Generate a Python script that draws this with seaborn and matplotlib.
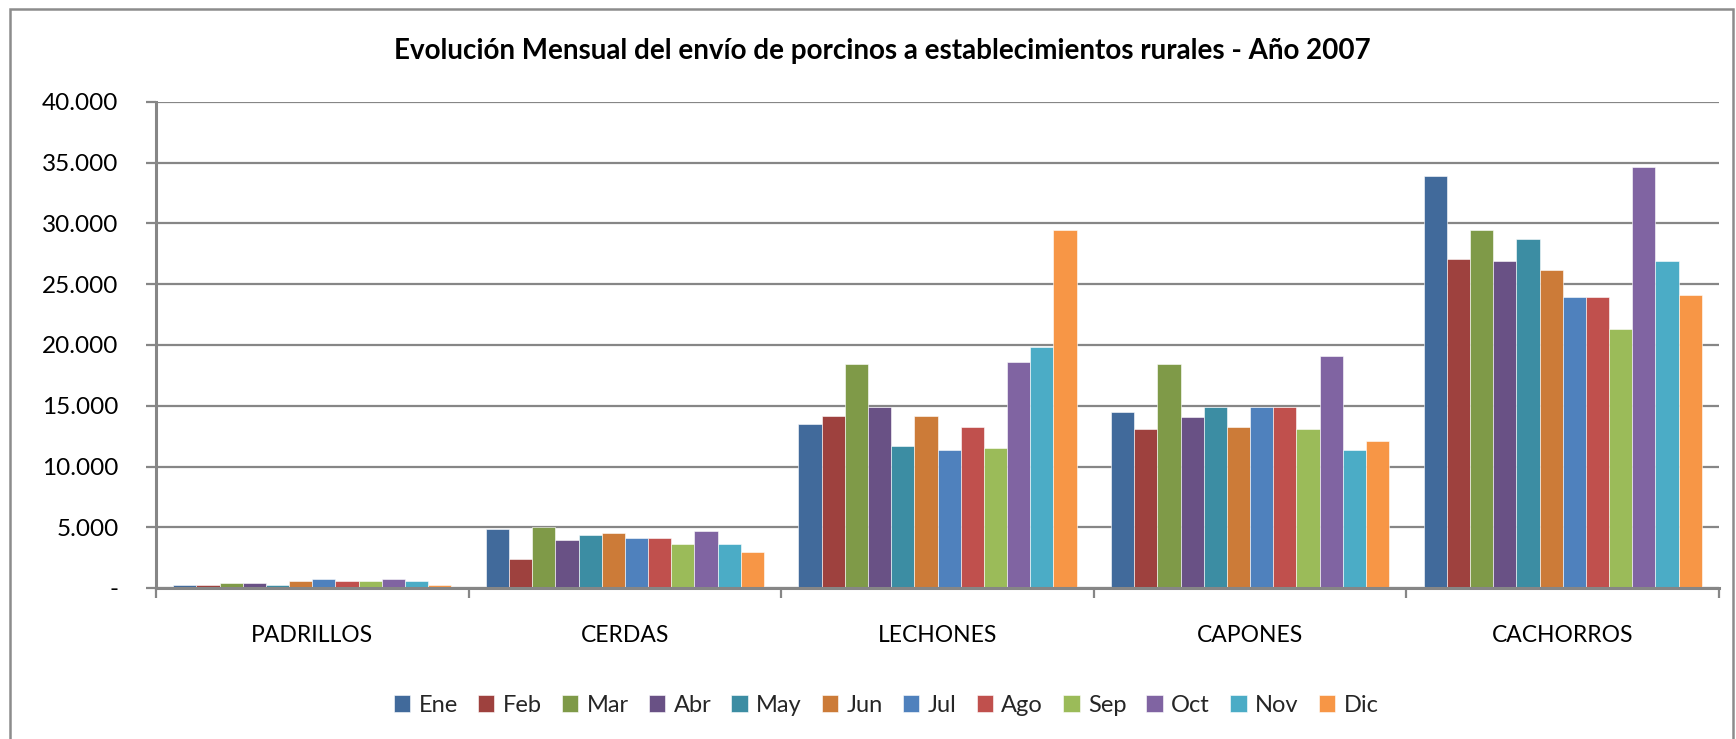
import matplotlib
matplotlib.use("Agg")
import matplotlib.pyplot as plt
import seaborn as sns
import pandas as pd
from matplotlib.ticker import FuncFormatter, MultipleLocator, FixedLocator
from matplotlib.patches import Rectangle

categories = ["PADRILLOS", "CERDAS", "LECHONES", "CAPONES", "CACHORROS"]
months = ["Ene", "Feb", "Mar", "Abr", "May", "Jun", "Jul", "Ago", "Sep", "Oct", "Nov", "Dic"]

padrillos = [220, 220, 390, 390, 220, 550, 720, 550, 550, 720, 550, 220]
cerdas = [4870, 2420, 5010, 3990, 4350, 4510, 4150, 4150, 3660, 4680, 3660, 2940]
lechones = [13480, 14140, 18430, 14860, 11720, 14140, 11390, 13290, 11550, 18600, 19810, 29440]
capones = [14470, 13120, 18430, 14110, 14860, 13290, 14860, 14860, 13120, 19120, 11390, 12080]
cachorros = [33920, 27040, 29440, 26880, 28750, 26190, 23930, 23930, 21350, 34610, 26880, 24130]

colors = ["#416A9B", "#9E413E", "#7F9A48", "#695185", "#3C8DA3", "#CC7B38",
          "#4F81BD", "#C0504D", "#9BBB59", "#8064A2", "#4BACC6", "#F79646"]

title = "Evolución Mensual del envío de porcinos a establecimientos rurales - Año 2007"

series = [padrillos, cerdas, lechones, capones, cachorros]
rows = []
for cat, vals in zip(categories, series):
    for m, v in zip(months, vals):
        rows.append({"categoria": cat, "mes": m, "valor": v})
df = pd.DataFrame(rows)

sns.set_theme(style="white")
plt.rcParams["font.family"] = ["Lato", "DejaVu Sans"]

fig = plt.figure(figsize=(17.36, 7.39), dpi=100)
ax = fig.add_axes([156 / 1736, 1 - 588 / 739, (1719 - 156) / 1736, (588 - 102) / 739])

sns.barplot(data=df, x="categoria", y="valor", hue="mes", order=categories,
            hue_order=months, palette=colors, width=0.89, saturation=1,
            edgecolor="white", linewidth=0.4, ax=ax, errorbar=None)

ax.set_ylim(0, 40000)
ax.set_xlim(-0.5, 4.5)
ax.yaxis.set_major_locator(MultipleLocator(5000))
ax.yaxis.set_major_formatter(FuncFormatter(
    lambda v, _: "-" if v == 0 else f"{int(v):,}".replace(",", ".")))
ax.set_xlabel("")
ax.set_ylabel("")

ax.yaxis.grid(True, color="#868686", linewidth=1.6)
ax.set_axisbelow(True)
for s in ["top", "right"]:
    ax.spines[s].set_visible(False)
for s in ["left", "bottom"]:
    ax.spines[s].set_color("#868686")
    ax.spines[s].set_linewidth(2.2)

ax.xaxis.set_minor_locator(FixedLocator([-0.5, 0.5, 1.5, 2.5, 3.5, 4.5]))
ax.tick_params(axis="x", which="major", length=0, pad=27, labelsize=16.5, labelcolor="black")
ax.tick_params(axis="x", which="minor", length=7, width=1.6, color="#868686", direction="out", bottom=True)
ax.tick_params(axis="y", which="major", length=7, width=1.6, color="#868686", direction="out",
               left=True, pad=20, labelsize=17.5, labelcolor="black")

handles, labels = ax.get_legend_handles_labels()
if ax.get_legend() is not None:
    ax.get_legend().remove()
fig.legend(handles, labels, loc="center", bbox_to_anchor=(886 / 1736, 1 - 705 / 739),
           ncol=12, frameon=False, fontsize=17, handlelength=0.7, handleheight=0.7,
           handletextpad=0.35, columnspacing=0.85)

fig.text(882 / 1736, 1 - 51 / 739, title, ha="center", va="center",
         fontsize=20, fontweight="bold", color="black")

fig.patches.append(Rectangle((10 / 1736, -0.05), (1733 - 10) / 1736, 1.05 - 9 / 739,
                             transform=fig.transFigure, fill=False,
                             edgecolor="#8C8C8C", linewidth=1.8))

fig.savefig("out.png", dpi=100, facecolor="white")
